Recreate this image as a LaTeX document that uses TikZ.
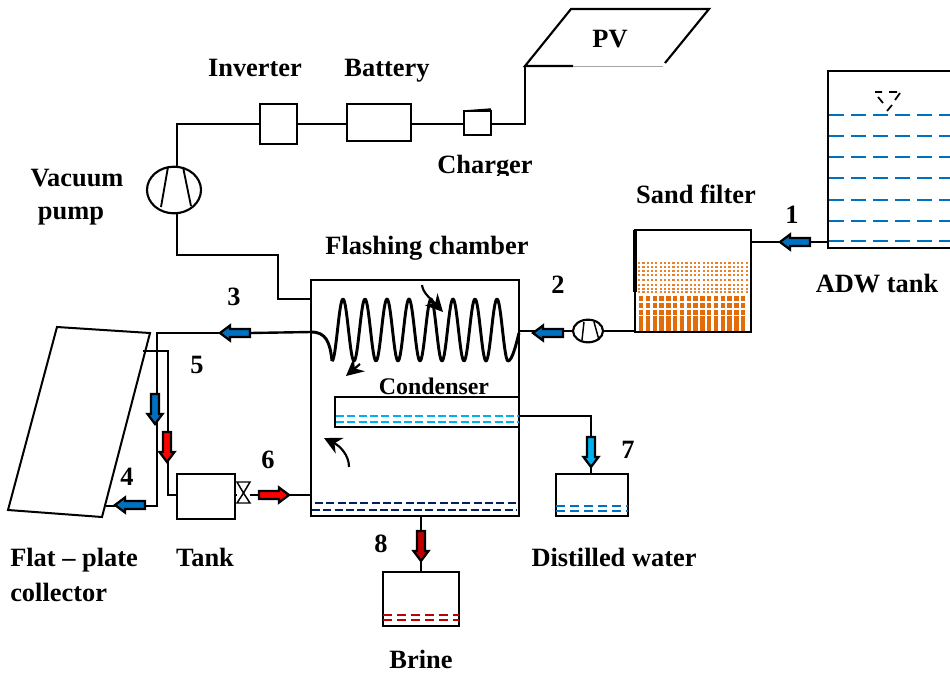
\documentclass[tikz,border=0pt]{standalone}
\usepackage{fontspec}
\setmainfont{Liberation Serif}
\usetikzlibrary{shapes.geometric,arrows.meta,calc}
\definecolor{flowblue}{HTML}{0070C0}
\definecolor{flowred}{HTML}{FF0000}
\definecolor{flowcyan}{HTML}{00B0F0}
\definecolor{flowdark}{HTML}{C00000}
\definecolor{navyline}{HTML}{002060}
\definecolor{sandcol}{HTML}{E36C0A}
\tikzset{
  wire/.style={draw=black,line width=1.8pt,line join=miter},
  thinwire/.style={draw=black,line width=1.4pt},
  boxn/.style={draw=black,line width=1.6pt,inner sep=0pt,outer sep=0pt,fill=none},
  pumpn/.style={draw=black,line width=1.6pt,ellipse,inner sep=0pt,outer sep=0pt},
  lab/.style={font=\bfseries\fontsize{19.8}{22}\selectfont,text=black,inner sep=0pt,anchor=base},
  labl/.style={lab,anchor=base west},
  water/.style={line width=1.5pt,dash pattern=on 11.5pt off 5pt},
  shortdash/.style={line width=1.5pt,dash pattern=on 7pt off 3.5pt},
  finedash/.style={line width=1.5pt,dash pattern=on 6pt off 2.5pt},
  swirl/.style={line width=1.6pt,-{Stealth[length=13pt,width=13pt]}},
  flowtip/.style={draw=black,line width=1.7pt,line join=miter}
}
\newcommand{\pxbox}[5]{%
  \pgfmathsetmacro{\pxw}{(#4-#2)*0.75}%
  \pgfmathsetmacro{\pxh}{(#5-#3)*0.75}%
  \pgfmathsetmacro{\pxcx}{(#2+#4)/2}%
  \pgfmathsetmacro{\pxcy}{(#3+#5)/2}%
  \node[boxn,minimum width=\pxw pt,minimum height=\pxh pt] (#1) at (\pxcx,\pxcy) {};}
\newcommand{\flowarrow}[4]{%
  \begin{scope}[shift={(#1,#2)},rotate=#3]
    \draw[flowtip,fill=#4] (0,0) -- (-10,7.5) -- (-10,4) -- (-30,4) -- (-30,-4) -- (-10,-4) -- (-10,-7.5) -- cycle;
  \end{scope}}
\begin{document}
\begin{tikzpicture}[x=0.75pt,y=-0.75pt]
\useasboundingbox (0,0) rectangle (950,672);
% sand
\foreach \yy in {262,266,270,274,279,284,288,291}
  \foreach \xx in {638,642.3,...,747}
    \fill[sandcol!85] (\xx,\yy) rectangle +(2.2,2.2);
\foreach \yy in {296,303,310,316,321,326}
  \foreach \xx in {639,645.8,...,746}
    \fill[sandcol] (\xx,\yy) rectangle +(4.4,4.8);
% boxes
\pxbox{inverter}{260}{104}{297}{144}
\pxbox{battery}{347}{104}{411}{141}
\pxbox{charger}{464}{111}{491}{135}
\pxbox{chamber}{311}{280}{519}{516}
\pxbox{condenser}{335}{397}{519}{427}
\pxbox{filter}{635}{230}{751}{332}
\pxbox{tankbox}{177}{474}{235}{519}
\pxbox{distilled}{556}{474}{628}{516}
\pxbox{brinebox}{383}{572}{459}{626}
\node[pumpn,minimum width=40.5pt,minimum height=35pt] (vacpump) at (174,190) {};
\node[pumpn,minimum width=22.5pt,minimum height=17pt] (waterpump) at (588,331) {};
% PV panel
\coordinate (pva) at (525,66);
\coordinate (pvb) at (571,9);
\coordinate (pvc) at (709,9);
\coordinate (pvd) at (665,63);
\coordinate (pve) at (573,66);
\coordinate (pvf) at (663,66);
\draw[line width=1.6pt] (pvd) -- (pvc) -- (pvb) -- (pva) -- (pve);
\draw[line width=0.6pt,black!35] (pve) -- (pvf);
\draw[line width=1.1pt] (464,111) -- (491,109);
% collector
\coordinate (colA) at (57,327);
\coordinate (colB) at (150,333);
\coordinate (colC) at (102,517);
\coordinate (colD) at (8,510);
\draw[line width=1.5pt] (colA) -- (colB) -- (colC) -- (colD) -- cycle;
% ADW tank
\coordinate (adwA) at (950,71);
\coordinate (adwB) at (828,71);
\coordinate (adwC) at (828,248);
\coordinate (adwD) at (950,248);
\draw[line width=1.6pt] (adwA) -- (adwB) -- (adwC) -- (adwD);
\foreach \yy in {115,136,157,178,200,221,241}
  \draw[water,flowblue] (829,\yy) -- (950,\yy);
\draw[line width=1.3pt] (875,92) -- (882,92) (889,92) -- (897,92) (900,93) -- (895,100) (892,105) -- (887,111) (878,97) -- (883,103);
% wires PV chain
\coordinate (j1) at (525,124);
\draw[wire] (pva) -- (j1) -- (charger.east |- j1);
\draw[wire] (charger.west |- j1) -- (battery.east |- j1);
\draw[wire] (battery.west |- j1) -- (inverter.east |- j1);
\coordinate (j2) at (177,124);
\draw[wire] (inverter.west |- j1) -- (j2) -- (177,166);
\coordinate (j3) at (177,255);
\coordinate (j4) at (278,255);
\coordinate (j5) at (278,299);
\draw[wire] (177,213) -- (j3) -- (j4) -- (j5) -- (chamber.west |- j5);
\draw[line width=1.4pt] (168,167) -- (161,207) (183,167) -- (191,206);
\draw[line width=1.1pt] (584,322) -- (582,340) (594,322) -- (599,340);
% coil and pipe
\coordinate (j6) at (157,333);
\coordinate (j7) at (157,506);
\coordinate (j8) at (106,506);
\draw[line width=2.2pt,line join=round] plot[domain=332:508,samples=200] ({\x},{330-31*cos(16.3636*(\x-343))}) .. controls (512,361) and (516,345) .. (519,333);
\draw[line width=2.2pt] (311,332) .. controls (326,332) and (330,342) .. (332,361);
\draw[wire] (311,332) -- (250,333);
\draw[thinwire] (220,333) -- (j6) -- (j7) -- (j8);
\coordinate (j9) at (143,351);
\coordinate (j10) at (168,351);
\coordinate (j11) at (168,495);
\draw[thinwire] (j9) -- (j10) -- (j11) -- (tankbox.west |- j11);
% valve
\coordinate (valve) at (243.5,493);
\draw[line width=1.1pt] (valve) -- (237,482) -- (250,482) -- (valve) -- (250,503) -- (237,503) -- cycle;
\draw[wire] (tankbox.east |- j11) -- (237,495);
\draw[wire] (250,495) -- (chamber.west |- j11);
% right side
\coordinate (j12) at (591,416);
\draw[wire] (chamber.east |- j12) -- (j12) -- (distilled.north -| j12);
\draw[wire] (chamber.south -| brinebox.north) -- (brinebox.north);
\draw[wire] (chamber.east |- waterpump.west) -- (waterpump.west);
\draw[wire] (waterpump.east) -- (filter.west |- waterpump.east);
\coordinate (j13) at (751,242);
\draw[wire] (filter.east |- j13) -- (adwB |- j13);
\draw[line width=2.6pt] (filter.north west) -- (filter.west |- 0,292);
% liquid levels
\draw[finedash,flowcyan] (336,416) -- (519,416);
\draw[finedash,flowcyan] (336,422) -- (519,422);
\draw[finedash,navyline] (315,503) -- (518,503);
\draw[finedash,navyline] (312,510) -- (517,510);
\draw[shortdash,flowblue] (556,506) -- (628,506) (556,511) -- (628,511);
\draw[shortdash,flowdark] (383,615) -- (459,615) (383,620) -- (459,620);
% swirl arrows
\draw[swirl] (422,285) .. controls (423,293) and (430,298) .. (443,312);
\draw[swirl] (360,364) -- (346,376);
\draw[swirl] (349,467) .. controls (349,455) and (340,446) .. (324,438);
% flow arrows
\flowarrow{780}{242}{180}{flowblue}
\flowarrow{533}{333}{180}{flowblue}
\flowarrow{220}{333}{180}{flowblue}
\flowarrow{115}{505}{180}{flowblue}
\flowarrow{155}{424}{-90}{flowblue}
\flowarrow{167}{462}{-90}{flowred}
\flowarrow{289}{495}{0}{flowred}
\flowarrow{591}{467}{-90}{flowcyan}
\flowarrow{421}{561}{-90}{flowdark}
% labels
\node[lab] (lpv) at (610,47) {PV};
\node[lab] (linv) at (255,76) {Inverter};
\node[lab] (lbat) at (387,76) {Battery};
\begin{scope}
  \clip (430,150) rectangle (540,175);
  \node[lab] (lchg) at (485,173) {Charger};
\end{scope}
\node[lab] (lvac) at (77,186) {Vacuum};
\node[lab] (lpump) at (71,219) {pump};
\node[lab] (lflash) at (427,254) {Flashing chamber};
\node[lab] (lsand) at (696,203) {Sand filter};
\node[lab] (ladw) at (877,292) {ADW tank};
\node[lab,font=\bfseries\fontsize{17.9}{20}\selectfont] (lcond) at (434,394) {Condenser};
\node[labl] (lflat) at (10,566) {Flat – plate};
\node[labl] (lcoll) at (10,601) {collector};
\node[lab] (ltank) at (205,566) {Tank};
\node[lab] (ldist) at (614,566) {Distilled water};
\node[lab] (lbrine) at (421,668) {Brine};
\node[lab] (n1) at (792,223) {1};
\node[lab] (n2) at (558,293) {2};
\node[lab] (n3) at (234,305) {3};
\node[lab] (n4) at (127,485) {4};
\node[lab] (n5) at (197,373) {5};
\node[lab] (n6) at (268,468) {6};
\node[lab] (n7) at (628,458) {7};
\node[lab] (n8) at (381,552) {8};
\end{tikzpicture}
\end{document}
